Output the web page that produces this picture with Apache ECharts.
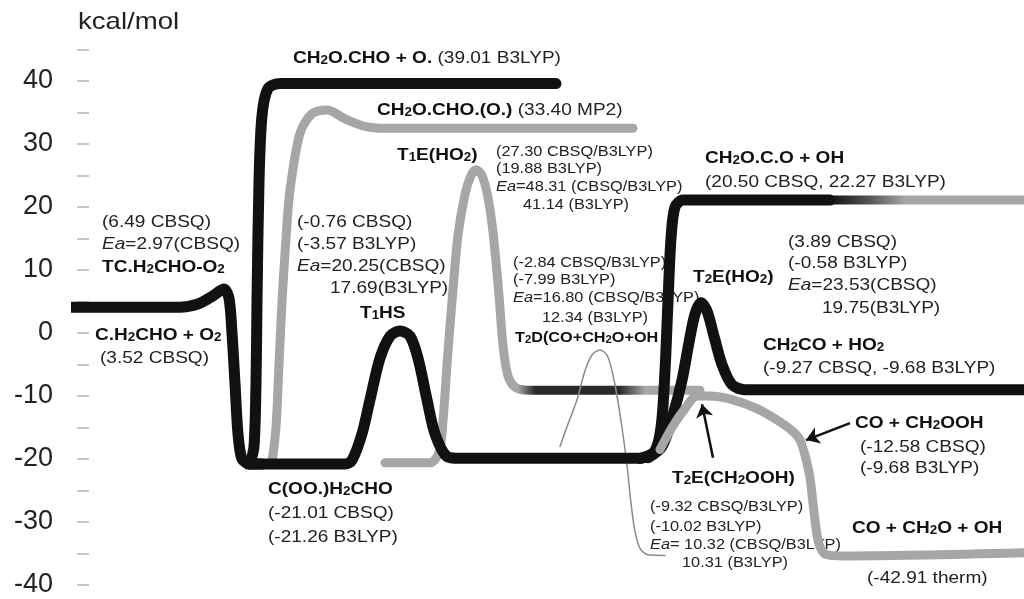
<!DOCTYPE html>
<html><head><meta charset="utf-8">
<script src="https://cdn.jsdelivr.net/npm/echarts@6/dist/echarts.min.js"></script>
<style>html,body{margin:0;padding:0;background:#fff}#c{width:1024px;height:599px}</style>
</head><body><div id="c"></div>
<script>
// Energy profile, y = kcal/mol, x = reaction coordinate (arbitrary units)
const entranceTC = [[70,4.1],[180,4.1],[198,4.6],[212,5.8],[224,7.0],[229,5.5],[232,0],[235,-8],[238,-16],[242,-20],[250,-20.8],[262,-20.8]];
const riseToCHO_O = [[250,-20.8],[254,-18],[256,-8],[257,5],[259,24],[262,34.5],[268,38.8],[280,39.6],[556,39.6]];
const bottomT1HS = [[248,-20.8],[345,-20.8],[352,-20.2],[362,-16],[370,-10.6],[380,-4],[390,-0.5],[400,0.3],[410,-0.5],[418,-4],[427,-10.6],[435,-16],[447,-19.6],[460,-19.9],[640,-19.9],[652,-19.2]];
const riseToOH = [[640,-19.9],[654,-19],[661,-15],[665,-6],[668,5],[671,15],[675,20],[683,21.1],[830,21.1]];
const ohPlateauGrey = [[830,21.1],[1024,21.1]];
const t2eHO2 = [[648,-19.8],[662,-18],[673,-13],[682,-7.5],[689,-1.5],[695,3],[701,4.8],[707,3.5],[714,-0.5],[722,-5],[732,-8.2],[745,-9],[1024,-9]];
const choOGrey = [[272,-20.5],[276,-15],[279,-5],[282,5],[286,15],[290,22.7],[300,31.7],[312,34.8],[327,35.4],[345,34],[365,32.8],[385,32.5],[633,32.5]];
const t1eGrey = [[385,-20.6],[430,-20.6],[439,-19],[443,-14],[447,-5],[452,5],[458,15.5],[465,22],[471,25],[476,25.9],[482,25],[488,21.5],[493,16],[499,6],[503,-2],[508,-6.8],[516,-8.7],[530,-9.1],[700,-9.1]];
const t2dThin = [[560,-18],[569,-14],[577,-10.6],[585,-6],[592,-3.5],[600,-2.7],[607,-3.5],[612,-6],[617,-10],[622,-15],[627,-21],[631,-27],[635,-31.5],[640,-34.2],[648,-35.2],[665,-35.3]];
const ch2oohGrey = [[660,-18.5],[672,-15],[685,-12],[697,-10],[710,-10],[733,-10.6],[757,-12],[777,-13.8],[792,-15.5],[800,-17],[806,-20],[810,-23],[813,-27],[816,-31],[819,-33.5],[825,-35.1],[845,-35.4],[1024,-34.9]];
const arrowLines = [[[713,-19.8],[702,-11.3]],[[850,-14.3],[806,-17]]];
const yTicks = {min:-40, max:45, step:5, labelStep:10};

const FONT = '"Liberation Sans", Arial, Helvetica, sans-serif';
const BIG = 17, SMALL = 14.6, SX = 1.12;
function rich(size){
  const s = Math.round(size*0.68);
  return {
    b:{fontSize:size,fontWeight:'bold',fontFamily:FONT,fill:'#111'},
    bs:{fontSize:s,fontWeight:'bold',fontFamily:FONT,fill:'#111',verticalAlign:'bottom'},
    r:{fontSize:size,fontFamily:FONT,fill:'#222'},
    i:{fontSize:size,fontStyle:'italic',fontFamily:FONT,fill:'#222'},
    rs:{fontSize:s,fontFamily:FONT,fill:'#222',verticalAlign:'bottom'}
  };
}
// annotation layout: [left px, centre px, rich text, size]
const notes = [
 [102,222,'{r|(6.49 CBSQ)}',BIG],
 [102,244,'{i|Ea}{r|=2.97(CBSQ)}',BIG],
 [102,267,'{b|TC.H}{bs|2}{b|CHO-O}{bs|2}',BIG],
 [95,335,'{b|C.H}{bs|2}{b|CHO + O}{bs|2}',BIG],
 [100,358,'{r|(3.52 CBSQ)}',BIG],
 [268,489,'{b|C(OO.)H}{bs|2}{b|CHO}',BIG],
 [268,513,'{r|(-21.01 CBSQ)}',BIG],
 [268,537,'{r|(-21.26 B3LYP)}',BIG],
 [293,58,'{b|CH}{bs|2}{b|O.CHO + O.} {r|(39.01 B3LYP)}',BIG],
 [377,110,'{b|CH}{bs|2}{b|O.CHO.(O.)} {r|(33.40 MP2)}',BIG],
 [297,222,'{r|(-0.76 CBSQ)}',BIG],
 [297,244,'{r|(-3.57 B3LYP)}',BIG],
 [297,266,'{i|Ea}{r|=20.25(CBSQ)}',BIG],
 [330,288,'{r|17.69(B3LYP)}',BIG],
 [360,313,'{b|T}{bs|1}{b|HS}',BIG],
 [397,155,'{b|T}{bs|1}{b|E(HO}{bs|2}{b|)}',BIG],
 [705,158,'{b|CH}{bs|2}{b|O.C.O + OH}',BIG],
 [705,182,'{r|(20.50 CBSQ, 22.27 B3LYP)}',BIG],
 [788,242,'{r|(3.89 CBSQ)}',BIG],
 [788,263,'{r|(-0.58 B3LYP)}',BIG],
 [788,285,'{i|Ea}{r|=23.53(CBSQ)}',BIG],
 [822,308,'{r|19.75(B3LYP)}',BIG],
 [693,277,'{b|T}{bs|2}{b|E(HO}{bs|2}{b|)}',BIG],
 [763,345,'{b|CH}{bs|2}{b|CO + HO}{bs|2}',BIG],
 [763,368,'{r|(-9.27 CBSQ, -9.68 B3LYP)}',BIG],
 [855,423,'{b|CO + CH}{bs|2}{b|OOH}',BIG],
 [860,447,'{r|(-12.58 CBSQ)}',BIG],
 [860,468,'{r|(-9.68 B3LYP)}',BIG],
 [672,478,'{b|T}{bs|2}{b|E(CH}{bs|2}{b|OOH)}',BIG],
 [852,528,'{b|CO + CH}{bs|2}{b|O + OH}',BIG],
 [867,578,'{r|(-42.91 therm)}',BIG],
 [496,152,'{r|(27.30 CBSQ/B3LYP)}',SMALL],
 [496,169,'{r|(19.88 B3LYP)}',SMALL],
 [496,187,'{i|Ea}{r|=48.31 (CBSQ/B3LYP)}',SMALL],
 [523,205,'{r|41.14 (B3LYP)}',SMALL],
 [513,263,'{r|(-2.84 CBSQ/B3LYP)}',SMALL],
 [513,280,'{r|(-7.99 B3LYP)}',SMALL],
 [513,298,'{i|Ea}{r|=16.80 (CBSQ/B3LYP)}',SMALL],
 [542,318,'{r|12.34 (B3LYP)}',SMALL],
 [515,338,'{b|T}{bs|2}{b|D(CO+CH}{bs|2}{b|O+OH}',14.5],
 [650,507,'{r|(-9.32 CBSQ/B3LYP)}',SMALL],
 [650,527,'{r|(-10.02 B3LYP)}',SMALL],
 [650,545,'{i|Ea}{r|= 10.32 (CBSQ/B3LYP)}',SMALL],
 [682,563,'{r|10.31 (B3LYP)}',SMALL]
];

const graphics = notes.map(n => ({
  type:'text', x:n[0], y:n[1], z:1, scaleX:SX, silent:true,
  style:{text:n[2], rich:rich(n[3]), fontFamily:FONT, fontSize:n[3], fill:'#222',
         align:'left', verticalAlign:'middle', textAlign:'left', textVerticalAlign:'middle'}
}));
graphics.push({type:'text', x:78, y:22, z:1, scaleX:1.15, silent:true,
  style:{text:'kcal/mol', fontFamily:FONT, fontSize:24, fill:'#222',
         align:'left', verticalAlign:'middle', textAlign:'left', textVerticalAlign:'middle'}});

const BLACK = '#111', GREY = '#a6a6a6', DARK = '#2a2a2a';
function hGrad(stops){
  return {type:'linear', x:0, y:0, x2:1024, y2:0, global:true,
    colorStops:stops.map(s => ({offset:s[0]/1024, color:s[1]}))};
}
function line(data, color, width, z){
  return {type:'line', data, symbol:'none', smooth:0.3, clip:false, silent:true, z:z||2,
    lineStyle:{color, width, cap:'round', join:'round'}};
}
const chart = echarts.init(document.getElementById('c'));
chart.setOption({
  animation:false,
  backgroundColor:'#fff',
  grid:{left:77, right:0, top:49.5, bottom:14},
  xAxis:{type:'value', min:77, max:1024, show:false},
  yAxis:{type:'value', min:yTicks.min, max:yTicks.max, interval:yTicks.step,
    axisLine:{show:false}, splitLine:{show:false},
    axisTick:{show:true, inside:true, length:12, lineStyle:{color:'#b5b5b5', width:1.5}},
    axisLabel:{margin:24, fontSize:27, color:'#222', fontFamily:FONT,
      formatter:v => (v % yTicks.labelStep === 0 && v <= 40) ? String(v) : ''}},
  graphic:graphics,
  series:[
    line(choOGrey, GREY, 9, 2),
    line(t1eGrey, hGrad([[0,GREY],[518,GREY],[535,DARK],[620,DARK],[645,GREY],[1024,GREY]]), 9, 2),
    line(ohPlateauGrey, hGrad([[0,BLACK],[830,BLACK],[870,'#555'],[905,GREY],[1024,GREY]]), 9, 2),
    line(t2dThin, '#8a8a8a', 1.5, 2),
    line(entranceTC, BLACK, 11, 3),
    line(riseToCHO_O, BLACK, 11, 3),
    line(bottomT1HS, BLACK, 11, 3),
    line(riseToOH, BLACK, 11, 3),
    line(t2eHO2, BLACK, 11, 3),
    line(ch2oohGrey, GREY, 9, 4),
    {type:'line', data:[], silent:true, z:5,
     markLine:{silent:true, symbol:['none','arrow'], symbolSize:13, label:{show:false},
       lineStyle:{color:BLACK, width:2.5, type:'solid'},
       data:arrowLines.map(a => [{coord:a[0]},{coord:a[1]}])}}
  ]
});
</script></body></html>
